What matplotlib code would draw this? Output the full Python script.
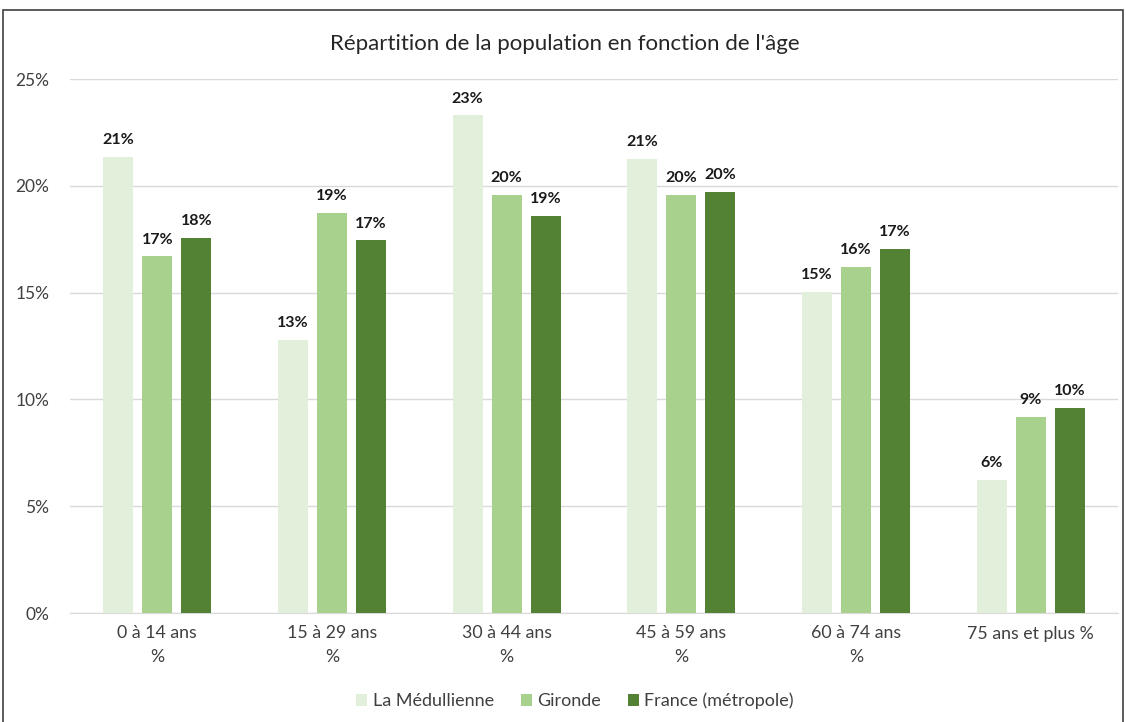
import matplotlib.pyplot as plt
import numpy as np
from matplotlib.patches import Rectangle

plt.rcParams['font.family'] = ['Lato', 'DejaVu Sans']

# data (percent)
categories = ["0 à 14 ans\n%", "15 à 29 ans\n%", "30 à 44 ans\n%",
              "45 à 59 ans\n%", "60 à 74 ans\n%", "75 ans et plus %"]
medullienne = [21.35, 12.8, 23.3, 21.25, 15.03, 6.23]
gironde = [16.7, 18.72, 19.57, 19.57, 16.2, 9.18]
france = [17.56, 17.45, 18.6, 19.7, 17.04, 9.6]

series = [("La Médullienne", medullienne, "#E2EFDA"),
          ("Gironde", gironde, "#A9D18E"),
          ("France (métropole)", france, "#548235")]

fig = plt.figure(figsize=(11.26, 7.22), dpi=100)
ax = fig.add_axes([70/1126, 109/722, 1048/1126, 534/722])

x = np.arange(len(categories))
width = 0.172
step = 0.223
for i, (name, vals, col) in enumerate(series):
    pos = x + (i - 1) * step
    ax.bar(pos, vals, width, color=col, label=name, zorder=3)
    for p, v in zip(pos, vals):
        ax.annotate(f"{v:.0f}%", (p, v), xytext=(0, 7), textcoords="offset points",
                    ha="center", va="bottom", fontsize=11.5, fontweight="bold",
                    color="#1a1a1a")

ax.set_xlim(-0.5, len(categories) - 0.5)
ax.set_ylim(0, 25)
ax.set_yticks([0, 5, 10, 15, 20, 25])
ax.set_yticklabels([f"{t}%" for t in [0, 5, 10, 15, 20, 25]], fontsize=12.5, color="#404040")
ax.set_xticks(x)
ax.set_xticklabels(categories, fontsize=12.8, color="#404040", linespacing=1.55)
ax.tick_params(axis="both", length=0)
ax.tick_params(axis="y", pad=15)
ax.tick_params(axis="x", pad=9)
ax.grid(axis="y", color="#D9D9D9", linewidth=1, zorder=0)
for s in ["top", "right", "left"]:
    ax.spines[s].set_visible(False)
ax.spines["bottom"].set_color("#D9D9D9")

fig.text(565/1126, 1 - 44/722, "Répartition de la population en fonction de l'âge",
         ha="center", va="center", fontsize=16, color="#262626")

leg = fig.legend(loc="center", bbox_to_anchor=(575/1126, 1 - 701/722), ncol=3,
                 frameon=False, fontsize=13, handlelength=0.6, handleheight=0.6,
                 columnspacing=1.5, handletextpad=0.3)
for t in leg.get_texts():
    t.set_color("#404040")

fig.patches.append(Rectangle((3/1126, -0.05), 1120/1126, 1.05 - 10/722,
                             transform=fig.transFigure, fill=False,
                             edgecolor="#404040", linewidth=1.2))

fig.savefig("out.png", dpi=100)
